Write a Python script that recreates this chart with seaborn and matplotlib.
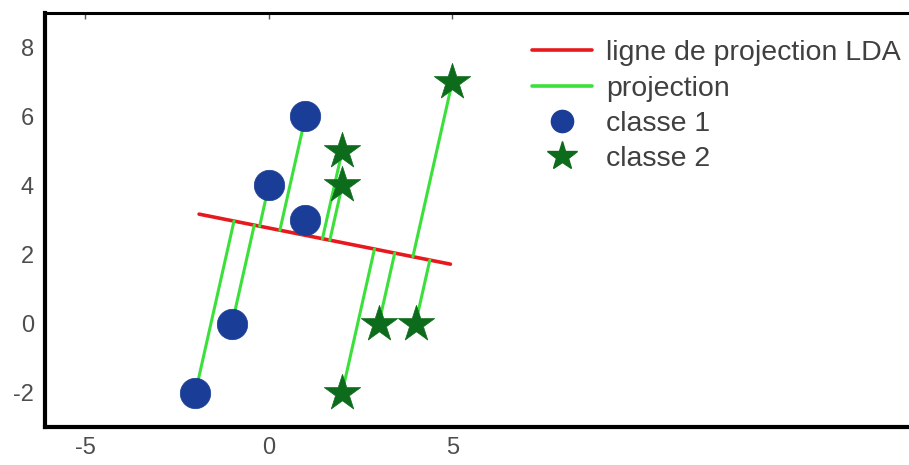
import numpy as np
import pandas as pd
import matplotlib.pyplot as plt
import seaborn as sns
from matplotlib.lines import Line2D

# data
classe1_x = [-2, -1, 0, 1, 1]
classe1_y = [-2, 0, 4, 6, 3]
classe2_x = [2, 3, 4, 2, 2, 5]
classe2_y = [-2, 0, 0, 4, 5, 7]

# ends of the LDA projection line
lda_x = [-1.9, 4.95]
lda_y = [3.17, 1.72]

labels = ["ligne de projection LDA", "projection", "classe 1", "classe 2"]

sns.set_style("white")
plt.rcParams['font.family'] = ['Liberation Sans', 'DejaVu Sans']
plt.rcParams['axes.unicode_minus'] = False

# orthogonal projection of every point on the LDA line
p0 = np.array([lda_x[0], lda_y[0]])
u = np.array([lda_x[1] - lda_x[0], lda_y[1] - lda_y[0]])
u = u / np.linalg.norm(u)
pts = np.column_stack([classe1_x + classe2_x, classe1_y + classe2_y]).astype(float)
t = (pts - p0) @ u
proj = p0 + np.outer(t, u)

rows = []
for i in range(len(pts)):
    rows.append({'seg': i, 'x': pts[i, 0], 'y': pts[i, 1]})
    rows.append({'seg': i, 'x': proj[i, 0], 'y': proj[i, 1]})
seg_df = pd.DataFrame(rows)

fig = plt.figure(figsize=(9.09, 4.65), dpi=100)
ax = fig.add_axes([45/909, 38/465, 864/909, 414/465])

red = '#e8191e'
lime = '#3be03b'
blue = '#1a3d97'
dgreen = '#0d6b1c'

sns.lineplot(x=lda_x, y=lda_y, color=red, linewidth=2.6, ax=ax)
sns.lineplot(data=seg_df, x='x', y='y', units='seg', estimator=None, sort=False,
             color=lime, linewidth=2.2, ax=ax)
sns.scatterplot(x=classe1_x, y=classe1_y, marker='o', s=480, color=blue,
                edgecolor=blue, linewidth=0.5, ax=ax, zorder=3)
sns.scatterplot(x=classe2_x, y=classe2_y, marker='*', s=760, color=dgreen,
                edgecolor=dgreen, linewidth=0.5, ax=ax, zorder=3)

ax.set_xlim(-6.1, 17.45)
ax.set_ylim(-3, 9)
ax.set_xticks([-5, 0, 5])
ax.set_yticks([-2, 0, 2, 4, 6, 8])
ax.set_xlabel("")
ax.set_ylabel("")

for side in ['left', 'bottom']:
    ax.spines[side].set_linewidth(3)
    ax.spines[side].set_color('black')
ax.spines['top'].set_linewidth(2.2)
ax.spines['top'].set_color('black')
ax.spines['right'].set_visible(False)

ax.tick_params(axis='both', direction='in', length=4, width=1, color='#555555',
               labelsize=17, labelcolor='#4d4d4d')
ax.tick_params(axis='y', pad=8)
ax.tick_params(axis='x', pad=7, top=True)

handles = [
    Line2D([], [], color=red, linewidth=2.6),
    Line2D([], [], color=lime, linewidth=2.6),
    Line2D([], [], color=blue, marker='o', linestyle='none', markersize=16),
    Line2D([], [], color=dgreen, marker='*', linestyle='none', markersize=22),
]
leg = ax.legend(handles, labels, loc='upper left', bbox_to_anchor=(518/909, 1 - 26/465),
                bbox_transform=fig.transFigure, frameon=False, fontsize=20.5,
                handlelength=2.1, handletextpad=0.5, labelspacing=0.33, borderpad=0)
for txt in leg.get_texts():
    txt.set_color('#404040')

plt.savefig("out.png", dpi=100)
